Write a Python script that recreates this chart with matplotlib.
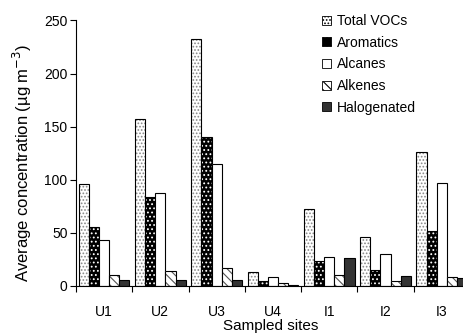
import matplotlib.pyplot as plt
import numpy as np
from matplotlib.patches import Patch

plt.rcParams['font.family'] = ['Liberation Sans', 'DejaVu Sans']
plt.rcParams['hatch.linewidth'] = 0.8

sites = ['U1', 'U2', 'U3', 'U4', 'I1', 'I2', 'I3']
total_vocs = [96.4, 156.8, 233.0, 13.5, 72.9, 46.5, 126.6]
aromatics = [55.3, 84.2, 140.4, 4.7, 23.6, 15.1, 51.8]
alcanes = [43.6, 87.4, 115.3, 8.8, 27.6, 30.4, 97.4]
alkenes = [10.4, 14.4, 17.3, 2.8, 10.0, 5.0, 8.2]
halogenated = [5.9, 5.9, 5.9, 0.9, 26.1, 9.7, 7.3]

series = [
    ('Total VOCs', total_vocs, 'white', '#888888', '.....'),
    ('Aromatics', aromatics, 'black', 'white', '....'),
    ('Alcanes', alcanes, 'white', 'white', None),
    ('Alkenes', alkenes, 'white', '#555555', '\\\\\\\\'),
    ('Halogenated', halogenated, '#333333', '#333333', None),
]

fig = plt.figure(figsize=(4.63, 3.36), dpi=100)
ax = fig.add_axes([0.164, 0.149, 0.851, 0.790])

x = np.arange(len(sites))
w = 0.18
handles = []
for k, (name, vals, fc, hc, hatch) in enumerate(series):
    xs = x + 0.05 + k * w
    # fill + hatch first, outline on top
    ax.bar(xs, vals, w, align='edge', color=fc, edgecolor=hc, hatch=hatch, linewidth=0)
    ax.bar(xs, vals, w, align='edge', fill=False, edgecolor='black', linewidth=0.8)
    handles.append(Patch(facecolor=fc, edgecolor='black', hatch=hatch, linewidth=0.6, label=name))

ax.set_xlim(0, 7)
ax.set_ylim(0, 250)
ax.set_yticks(np.arange(0, 251, 50))
ax.set_xticks(np.arange(0, 8))
ax.set_xticklabels([])
ax.set_xticks(x + 0.5, minor=True)
ax.set_xticklabels(sites, minor=True)
ax.tick_params(axis='x', which='minor', length=0, pad=14, labelsize=10)
ax.tick_params(axis='x', which='major', length=4, direction='out')
ax.tick_params(axis='y', length=4, direction='out', labelsize=10, pad=2)
ax.spines['top'].set_visible(False)
ax.spines['right'].set_visible(False)

ax.set_ylabel('Average concentration (µg m$^{-3}$)', fontsize=12)
ax.yaxis.set_label_coords(-0.107, 0.462)
ax.set_xlabel('Sampled sites', fontsize=11)
ax.xaxis.set_label_coords(0.495, -0.124)

fig.legend(handles=handles, loc='upper left', bbox_to_anchor=(0.695, 0.958),
           frameon=False, fontsize=10, handlelength=0.65, handleheight=0.6,
           handletextpad=0.45, labelspacing=0.55, borderpad=0, borderaxespad=0)

fig.savefig('out.png', dpi=100)
